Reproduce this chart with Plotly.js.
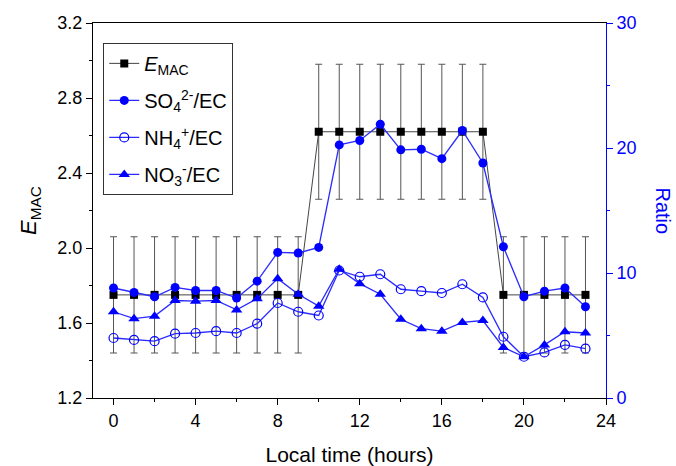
<!DOCTYPE html>
<html>
<head>
<meta charset="utf-8">
<script src="https://cdn.plot.ly/plotly-3.0.1.min.js"></script>
<style>html,body{margin:0;padding:0;background:#fff;}#chart{width:676px;height:466px;}</style>
</head>
<body>
<div id="chart"></div>
<script>
// Local time (hours)
const hours = [0,1,2,3,4,5,6,7,8,9,10,11,12,13,14,15,16,17,18,19,20,21,22,23];
// E_MAC (left axis) and its error
const emac = [1.75,1.75,1.75,1.75,1.75,1.75,1.75,1.75,1.75,1.75,2.62,2.62,2.62,2.62,2.62,2.62,2.62,2.62,2.62,1.75,1.75,1.75,1.75,1.75];
const emacErr = [0.31,0.31,0.31,0.31,0.31,0.31,0.31,0.31,0.31,0.31,0.36,0.36,0.36,0.36,0.36,0.36,0.36,0.36,0.36,0.31,0.31,0.31,0.31,0.31];
// Ratios (right axis)
const so4 = [8.8,8.45,8.1,8.85,8.6,8.6,8.0,9.35,11.65,11.6,12.05,20.25,20.6,21.9,19.85,19.9,19.15,21.4,18.8,12.1,8.1,8.55,8.8,7.3];
const nh4 = [4.8,4.65,4.55,5.15,5.2,5.35,5.2,5.95,7.6,6.9,6.6,10.2,9.7,9.9,8.7,8.55,8.4,9.1,8.05,4.9,3.3,3.65,4.25,3.95];
const no3 = [6.9,6.35,6.55,7.8,7.75,7.8,7.05,7.95,9.55,8.3,7.35,10.3,9.15,8.3,6.3,5.55,5.35,6.05,6.2,4.05,3.3,4.25,5.3,5.2];
const names = ['<i>E</i><sub>MAC</sub>','SO<sub>4</sub><sup>2-</sup>/EC','NH<sub>4</sub><sup>+</sup>/EC','NO<sub>3</sub><sup>-</sup>/EC'];

const FONT = 'Liberation Sans, Arial, sans-serif';
const BLUE = '#0000ff';
const LBLUE = '#2a2aff';

const traces = [
  {x: hours, y: emac, name: names[0], legendgroup: 'a', type: 'scatter', mode: 'lines+markers',
   line: {color: '#444', width: 1}, marker: {symbol: 'square', size: 8, color: '#000'},
   error_y: {type: 'data', array: emacErr, visible: true, color: '#555', thickness: 1, width: 3.5}},
  {x: hours, y: so4, name: names[1], legendgroup: 'b', yaxis: 'y2', type: 'scatter', mode: 'lines+markers',
   line: {color: LBLUE, width: 1.3}, marker: {symbol: 'circle', size: 9, color: BLUE}},
  {x: hours, y: nh4, name: names[2], legendgroup: 'c', yaxis: 'y2', type: 'scatter', mode: 'lines+markers',
   line: {color: LBLUE, width: 1.3}, marker: {symbol: 'circle-open', size: 9, color: BLUE, line: {width: 1.2, color: BLUE}}},
  {x: hours, y: no3, name: names[3], legendgroup: 'd', yaxis: 'y2', type: 'scatter', mode: 'lines+markers',
   line: {color: LBLUE, width: 1.3}, marker: {symbol: 'triangle-up', size: 10, color: BLUE}}
];

const layout = {
  width: 676, height: 466,
  margin: {l: 93, r: 70, t: 23, b: 68},
  paper_bgcolor: '#fff', plot_bgcolor: '#fff',
  font: {family: FONT, size: 18, color: '#000'},
  showlegend: true,
  legend: {x: 0.02, y: 0.947, xanchor: 'left', yanchor: 'top', bordercolor: '#333', borderwidth: 1,
           bgcolor: '#fff', font: {family: FONT, size: 20}, traceorder: 'grouped', tracegroupgap: 8},
  xaxis: {range: [-1, 24], tick0: 0, dtick: 4, ticks: 'outside', ticklen: 6, tickwidth: 1, tickcolor: '#000',
          minor: {dtick: 2, ticks: 'outside', ticklen: 3, tickcolor: '#000'},
          showline: true, linecolor: '#000', linewidth: 1, mirror: true, showgrid: false, zeroline: false,
          tickfont: {size: 18}, title: {text: 'Local time (hours)', font: {size: 21}, standoff: 18}},
  yaxis: {range: [1.2, 3.2], tick0: 1.2, dtick: 0.4, tickformat: '.1f', ticks: 'outside', ticklen: 6, tickcolor: '#000',
          minor: {dtick: 0.2, ticks: 'outside', ticklen: 3, tickcolor: '#000'},
          showline: true, linecolor: '#000', linewidth: 1, showgrid: false, zeroline: false,
          tickfont: {size: 18}, title: {text: '<i>E</i><sub>MAC</sub>', font: {size: 22}, standoff: 14}},
  yaxis2: {overlaying: 'y', side: 'right', range: [0, 30], dtick: 10, ticks: 'outside', ticklen: 6, tickcolor: BLUE,
           minor: {dtick: 5, ticks: 'outside', ticklen: 3, tickcolor: BLUE},
           showline: true, linecolor: BLUE, linewidth: 1, showgrid: false, zeroline: false,
           tickfont: {size: 18, color: BLUE}},
  annotations: [{text: 'Ratio', xref: 'paper', yref: 'paper', x: 1, xshift: 70, y: 0.5, showarrow: false,
                 textangle: 90, font: {size: 20, color: BLUE, family: FONT}}]
};

Plotly.newPlot('chart', traces, layout, {displayModeBar: false, staticPlot: true});
</script>
</body>
</html>
